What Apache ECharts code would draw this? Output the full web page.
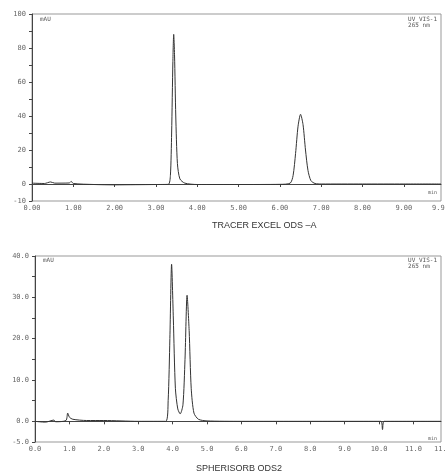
<!DOCTYPE html>
<html><head><meta charset="utf-8">
<script src="https://cdn.jsdelivr.net/npm/echarts@6/dist/echarts.min.js"></script>
<style>html,body{margin:0;padding:0;background:#fff}#c{width:445px;height:474px}</style>
</head><body><div id="c"></div>
<script>
// Top chromatogram: TRACER EXCEL ODS -A  [time (min), signal (mAU)]
const topTitle = 'TRACER EXCEL ODS –A';
const topTrace = [
  [0,0.5],[0.3,0.3],[0.45,1.2],[0.55,0.5],[0.9,0.6],[0.95,1.5],[1.0,0.3],[1.5,-0.3],[2.0,-0.5],
  [2.5,-0.4],[3.0,-0.3],[3.3,-0.2],[3.35,5],[3.38,30],[3.41,72],[3.43,88],[3.45,76],[3.48,40],
  [3.52,12],[3.58,3],[3.7,0.5],[4.0,-0.3],[5.0,-0.3],[6.0,-0.2],[6.25,0.5],[6.32,5],[6.38,18],
  [6.44,34],[6.5,41],[6.56,35],[6.62,20],[6.68,8],[6.75,2],[6.85,0.3],[7.0,0],[8.0,0],[9.0,0],[9.9,0]
];
const topYLabels = [-10,0,20,40,60,80,100];
// Bottom chromatogram: SPHERISORB ODS2
const botTitle = 'SPHERISORB ODS2';
const botTrace = [
  [0,0],[0.3,-0.2],[0.55,0.3],[0.6,-0.1],[0.9,0.2],[0.95,2],[1.0,1],[1.1,0.5],[1.5,0.2],[2.0,0.2],
  [3.0,0],[3.8,0],[3.87,5],[3.92,20],[3.97,38],[4.02,25],[4.08,8],[4.15,3],[4.22,1.8],[4.3,4],
  [4.36,15],[4.42,30.5],[4.48,22],[4.54,8],[4.62,2],[4.75,0.5],[5.0,0.1],[6.0,0],[7.0,0],[8.0,0],
  [9.0,0],[10.05,0],[10.1,-2],[10.15,0],[11.0,0],[11.8,0]
];
const botYLabels = [-5,0,10,20,30,40];

const mono = '"DejaVu Sans Mono", monospace';
const tickFont = {fontFamily: mono, fontSize: 7, color: '#666'};
const chart = echarts.init(document.getElementById('c'));
const axisLine = {show: true, lineStyle: {color: '#444', width: 1}};
chart.setOption({
  animation: false,
  backgroundColor: '#fff',
  grid: [
    {left: 32, top: 14, right: 4, height: 187, show: true, borderColor: '#999', borderWidth: 1, outerBoundsMode: 'none', containLabel: false},
    {left: 35, top: 256, right: 4, height: 186, show: true, borderColor: '#999', borderWidth: 1, outerBoundsMode: 'none', containLabel: false}
  ],
  xAxis: [
    {gridIndex: 0, type: 'value', min: 0, max: 9.9, interval: 1, splitLine: {show: false},
     axisLine: axisLine, axisTick: {length: 3, lineStyle: {color: '#444'}},
     axisLabel: Object.assign({}, tickFont, {margin: 4, showMaxLabel: false, formatter: v => v.toFixed(2)})},
    {gridIndex: 1, type: 'value', min: 0, max: 11.8, interval: 1, splitLine: {show: false},
     axisLine: axisLine, axisTick: {length: 3, lineStyle: {color: '#444'}},
     axisLabel: Object.assign({}, tickFont, {margin: 4, showMaxLabel: false, formatter: v => v.toFixed(1)})}
  ],
  yAxis: [
    {gridIndex: 0, type: 'value', min: -10, max: 100, interval: 10, splitLine: {show: false},
     axisLine: axisLine, axisTick: {length: 3, lineStyle: {color: '#444'}},
     axisLabel: Object.assign({}, tickFont, {margin: 6,
       formatter: v => topYLabels.indexOf(v) >= 0 ? String(v) : ''})},
    {gridIndex: 1, type: 'value', min: -5, max: 40, interval: 5, splitLine: {show: false},
     axisLine: axisLine, axisTick: {length: 3, lineStyle: {color: '#444'}},
     axisLabel: Object.assign({}, tickFont, {margin: 6,
       formatter: v => botYLabels.indexOf(v) >= 0 ? v.toFixed(1) : ''})}
  ],
  series: [
    {type: 'line', xAxisIndex: 0, yAxisIndex: 0, data: topTrace, showSymbol: false, smooth: 0.25,
     lineStyle: {color: '#333', width: 1}},
    {type: 'line', xAxisIndex: 1, yAxisIndex: 1, data: botTrace, showSymbol: false, smooth: 0.25,
     lineStyle: {color: '#333', width: 1}}
  ],
  graphic: [
    {type: 'text', left: 40, top: 16, style: {text: 'mAU', font: '6px ' + mono, fill: '#555'}},
    {type: 'text', right: 8, top: 16, style: {text: 'UV_VIS-1\n265 nm', font: '6px ' + mono, fill: '#555', align: 'right'}},
    {type: 'text', right: 8, top: 190, style: {text: 'min', font: '5px ' + mono, fill: '#555'}},
    {type: 'text', left: 432, top: 205, style: {text: '9.90', font: '7px ' + mono, fill: '#666'}},
    {type: 'text', left: 212, top: 221, style: {text: topTitle, font: '9px "Liberation Sans", Arial, sans-serif', fill: '#333'}},
    {type: 'text', left: 43, top: 257, style: {text: 'mAU', font: '6px ' + mono, fill: '#555'}},
    {type: 'text', right: 8, top: 257, style: {text: 'UV_VIS-1\n265 nm', font: '6px ' + mono, fill: '#555', align: 'right'}},
    {type: 'text', right: 8, top: 436, style: {text: 'min', font: '5px ' + mono, fill: '#555'}},
    {type: 'text', left: 434, top: 446, style: {text: '11.8', font: '7px ' + mono, fill: '#666'}},
    {type: 'text', left: 196, top: 464, style: {text: botTitle, font: '9px "Liberation Sans", Arial, sans-serif', fill: '#333'}}
  ]
});
</script></body></html>
